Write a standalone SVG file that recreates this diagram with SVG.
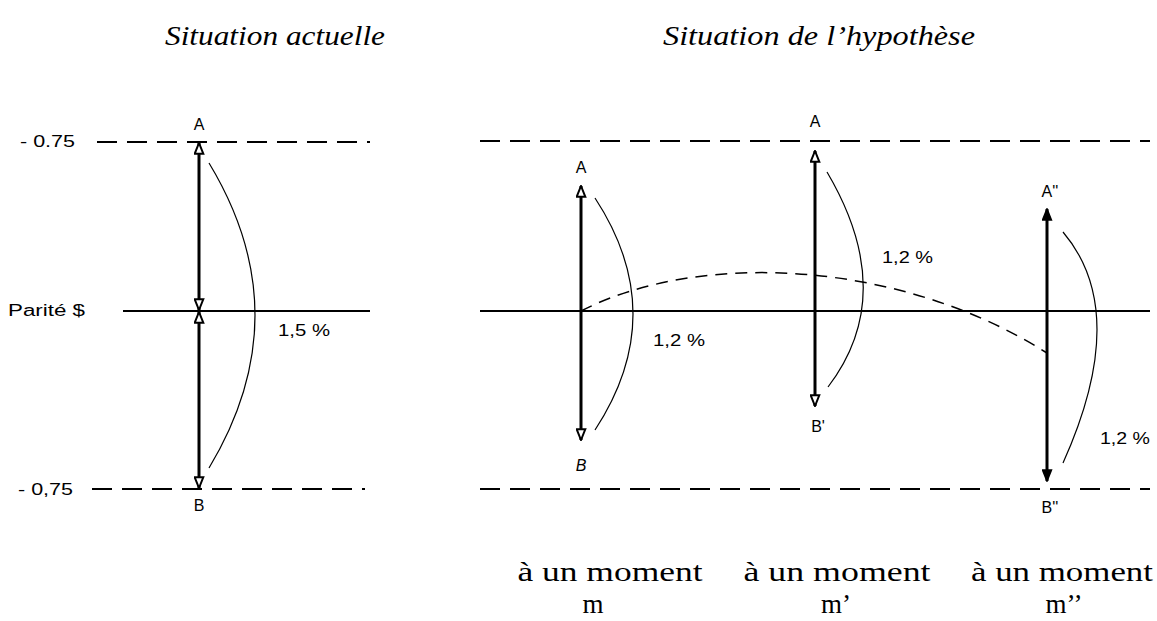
<svg xmlns="http://www.w3.org/2000/svg" width="1157" height="621" viewBox="0 0 1157 621">
<style>
.title{font-family:"Liberation Serif",serif;font-style:italic;font-size:27px;fill:#000}
.bottom{font-family:"Liberation Serif",serif;font-size:27px;fill:#000;text-anchor:middle}
.lab{font-family:"Liberation Sans",Arial,sans-serif;font-size:16px;fill:#000}
.mid{text-anchor:middle}
.dash{stroke:#000;stroke-width:1.8;stroke-dasharray:20 10;fill:none}
.solid{stroke:#000;stroke-width:1.8;fill:none}
.arc{stroke:#000;stroke-width:1.2;fill:none}
.arrH{stroke:#000;stroke-width:3;fill:none;marker-start:url(#hollow);marker-end:url(#hollow)}
.arrF{stroke:#000;stroke-width:3;fill:none;marker-start:url(#filled);marker-end:url(#filled)}
.curve{stroke:#000;stroke-width:1.5;stroke-dasharray:12 8;fill:none}
</style>
<defs>
<marker id="hollow" viewBox="0 0 12 10" refX="11" refY="5" markerWidth="13" markerHeight="11" markerUnits="userSpaceOnUse" orient="auto-start-reverse">
<path d="M1,1 L11,5 L1,9 Z" fill="#fff" stroke="#000" stroke-width="1.8"/>
</marker>
<marker id="filled" viewBox="0 0 12 10" refX="11" refY="5" markerWidth="13" markerHeight="11" markerUnits="userSpaceOnUse" orient="auto-start-reverse">
<path d="M1,1 L11,5 L1,9 Z" fill="#000" stroke="#000" stroke-width="1.5"/>
</marker>
</defs>

<g id="titles">
<text class="title" x="165" y="45" textLength="220" lengthAdjust="spacingAndGlyphs">Situation actuelle</text>
<text class="title" x="663" y="45" textLength="312" lengthAdjust="spacingAndGlyphs">Situation de l’hypothèse</text>
</g>

<g id="left-panel">
<line class="dash" x1="97" y1="142" x2="370" y2="142"/>
<line class="solid" x1="123" y1="311" x2="370" y2="311"/>
<line class="dash" x1="92" y1="489" x2="365" y2="489"/>
<text class="lab" x="20" y="147" textLength="55" lengthAdjust="spacingAndGlyphs">- 0.75</text>
<text class="lab" x="8" y="316" textLength="77" lengthAdjust="spacingAndGlyphs">Parité $</text>
<text class="lab" x="18" y="495" textLength="55" lengthAdjust="spacingAndGlyphs">- 0,75</text>
</g>

<g id="node-current">
<line class="arrH" x1="199" y1="143" x2="199" y2="310"/>
<line class="arrH" x1="199" y1="312" x2="199" y2="488"/>
<path class="arc" d="M209 163 Q301 315 209 468"/>
<text class="lab mid" x="199" y="130">A</text>
<text class="lab mid" x="199" y="511">B</text>
<text class="lab" x="278" y="336" textLength="52" lengthAdjust="spacingAndGlyphs">1,5 %</text>
</g>

<g id="right-panel">
<line class="dash" x1="480" y1="141" x2="1150" y2="141"/>
<line class="solid" x1="480" y1="311" x2="1150" y2="311"/>
<line class="dash" x1="480" y1="489" x2="1150" y2="489"/>
</g>

<g id="connectors">
<path class="curve" d="M581 311 C700 250 900 260 1047 353"/>
</g>

<g id="node-m">
<line class="arrH" x1="581" y1="186" x2="581" y2="440"/>
<path class="arc" d="M595 198 Q671 314 595 430"/>
<text class="lab mid" x="581" y="173">A</text>
<text class="lab mid" x="581" y="471" font-style="italic">B</text>
<text class="lab" x="653" y="346" textLength="52" lengthAdjust="spacingAndGlyphs">1,2 %</text>
</g>

<g id="node-m1">
<line class="arrH" x1="815" y1="151" x2="815" y2="406"/>
<path class="arc" d="M827 172 Q899 294 828 387"/>
<text class="lab mid" x="815" y="127">A</text>
<text class="lab mid" x="818" y="432">B'</text>
<text class="lab" x="882" y="263" textLength="51" lengthAdjust="spacingAndGlyphs">1,2 %</text>
</g>

<g id="node-m2">
<line class="arrF" x1="1047" y1="209" x2="1047" y2="481"/>
<path class="arc" d="M1063 232 Q1131 312 1063 463"/>
<text class="lab mid" x="1050" y="197">A''</text>
<text class="lab mid" x="1050" y="513">B''</text>
<text class="lab" x="1100" y="444" textLength="50" lengthAdjust="spacingAndGlyphs">1,2 %</text>
</g>

<g id="bottom-labels">
<text class="bottom" x="610" y="581" textLength="185" lengthAdjust="spacingAndGlyphs">à un moment</text>
<text class="bottom" x="593" y="613">m</text>
<text class="bottom" x="837" y="581" textLength="187" lengthAdjust="spacingAndGlyphs">à un moment</text>
<text class="bottom" x="836" y="613">m’</text>
<text class="bottom" x="1062" y="581" textLength="182" lengthAdjust="spacingAndGlyphs">à un moment</text>
<text class="bottom" x="1064" y="613">m’’</text>
</g>
</svg>
